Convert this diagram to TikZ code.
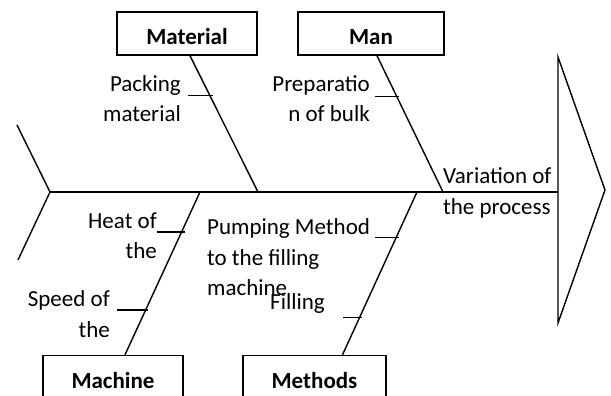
\documentclass[tikz,border=0pt]{standalone}
\usepackage{fontspec}
\setmainfont{Carlito}
\usetikzlibrary{calc}
\begin{document}
\begin{tikzpicture}[x=1pt,y=-1pt]
  \tikzset{
    causebox/.style={
      rectangle,
      draw=black,
      line width=1.4pt,
      minimum width=140pt,
      minimum height=43pt,
      text height=22pt,
      text depth=0pt,
      inner sep=2pt,
      font=\bfseries\fontsize{23}{23}\selectfont
    },
    causetext/.style={
      inner sep=0pt,
      font=\fontsize{23}{30.5}\selectfont
    },
    bone/.style={line width=1.4pt}
  }
  \useasboundingbox (0,0) rectangle (611,396);

  % cause boxes
  \node[causebox] (mat) at (187,33.5) {Material};
  \node[causebox, minimum width=146pt] (man) at (371,33.5) {Man};
  \node[causebox] (mach) at (113,377) {Machine};
  \node[causebox, minimum width=143pt] (meth) at (314.5,377) {Methods};

  % spine and head
  \coordinate (tail) at (50,192);
  \coordinate (tailtop) at (17,125);
  \coordinate (tailbot) at (18,260);
  \coordinate (head) at (558,192);
  \coordinate (headtop) at (558,57);
  \coordinate (nose) at (605,190);
  \coordinate (headbot) at (558,323);

  \draw[bone] (tail) -- (head);
  \draw[bone] (tailtop) -- (tail) -- (tailbot);
  \draw[bone, line join=miter] (headtop) -- (nose) -- (headbot) -- cycle;

  % bones
  \coordinate (matj) at (258,192);
  \coordinate (manj) at (443,192);
  \coordinate (machj) at (200,192);
  \coordinate (methj) at (417,192);

  \draw[bone] ([xshift=3pt]mat.south) -- (matj);
  \draw[bone] ([xshift=6pt]man.south) -- (manj);
  \draw[bone] (machj) -- ([xshift=12pt]mach.north);
  \draw[bone] (methj) -- ([xshift=28pt]meth.north);

  % ticks
  \draw[bone] ($([xshift=3pt]mat.south)!0.29!(matj)$) ++(3,0) -- ++(-25,0);
  \draw[bone] ($([xshift=6pt]man.south)!0.30!(manj)$) ++(2,0) -- ++(-24,0);
  \draw[bone] ($(machj)!0.245!([xshift=12pt]mach.north)$) ++(3,0) -- ++(-28,0);
  \draw[bone] ($(machj)!0.724!([xshift=12pt]mach.north)$) ++(2,0) -- ++(-31,0);
  \draw[bone] ($(methj)!0.279!([xshift=28pt]meth.north)$) ++(3,0) -- ++(-24,0);
  \draw[bone] ($(methj)!0.77!([xshift=28pt]meth.north)$) ++(2,0) -- ++(-19,0);

  % labels
  \node[causetext, align=right, anchor=east] (pack) at (181,98.5) {Packing\\material};
  \node[causetext, align=right, anchor=east] (prep) at (370,98.5) {Preparatio\\n of bulk};
  \node[causetext, align=right, anchor=east] (heat) at (157,235.5) {Heat of\\the};
  \node[causetext, align=right, anchor=east] (speed) at (110,314) {Speed of\\the};
  \node[causetext, align=left, anchor=west] (pump) at (207,257.5) {Pumping Method\\to the filling\\machine};
  \node[causetext, anchor=west] (fill) at (270,303) {Filling};
  \node[causetext, align=left, anchor=west] (var) at (443,193) {Variation of\\the process};
\end{tikzpicture}
\end{document}
